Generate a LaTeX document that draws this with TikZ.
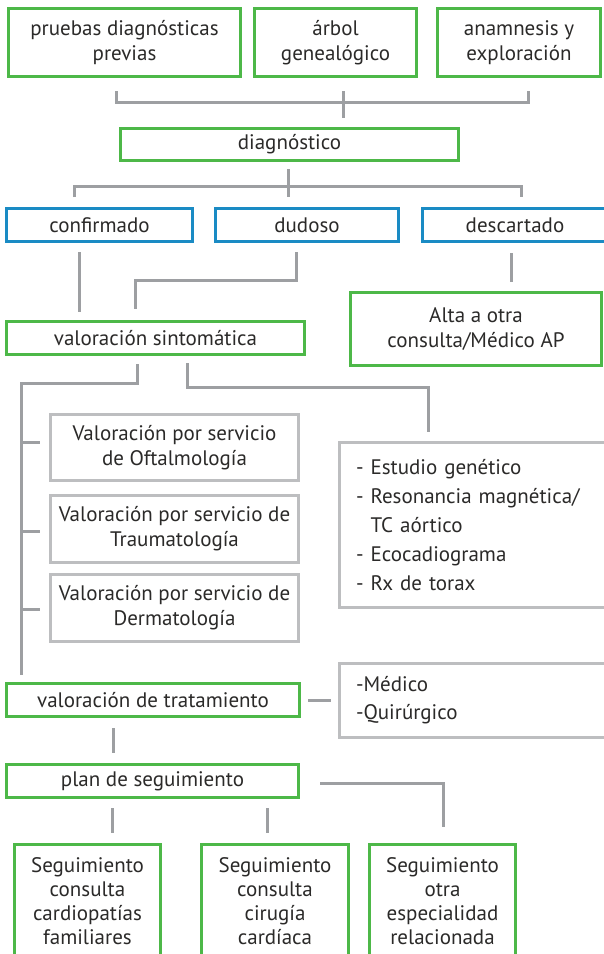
\documentclass[tikz,border=0pt]{standalone}
\usepackage{fontspec}
\setmainfont{PT Sans}
\definecolor{grn}{HTML}{4DB848}
\definecolor{blu}{HTML}{1A8BC4}
\definecolor{gboxc}{HTML}{BDBEC0}
\definecolor{gline}{HTML}{9D9FA2}
\definecolor{txt}{HTML}{2B2A29}
\begin{document}
\begin{tikzpicture}[x=1pt,y=-1pt,
  box/.style={draw, line width=3pt, inner sep=0pt, text=txt, align=center,
    font=\fontsize{21}{25}\selectfont},
  gbox/.style={box, draw=grn},
  bbox/.style={box, draw=blu},
  ybox/.style={box, draw=gboxc},
  lbox/.style={box, draw=gboxc, align=left, inner xsep=16.5pt},
  conn/.style={draw=gline, line width=3pt}]
\useasboundingbox (0,0) rectangle (604,954);
\fill[white] (0,0) rectangle (604,954);
\clip (0,0) rectangle (604,954);

% top row
\node[gbox, minimum width=232, minimum height=68] (b1) at (124.5,42.5) {pruebas diagnósticas\\previas};
\node[gbox, minimum width=162, minimum height=68] (b2) at (335.5,42.5) {árbol\\genealógico};
\node[gbox, minimum width=163, minimum height=68] (b3) at (519,42.5) {anamnesis y\\exploración};
\node[gbox, minimum width=338, minimum height=32] (diag) at (289.5,144.5) {diagnóstico};

\node[bbox, minimum width=186, minimum height=33] (conf) at (99.5,225) {confirmado};
\node[bbox, minimum width=183, minimum height=33] (dud) at (307,225) {dudoso};
\node[bbox, minimum width=185, minimum height=33] (desc) at (515,225) {descartado};

\node[gbox, minimum width=251, minimum height=73] (alta) at (476,328.5) {Alta a otra\\consulta/Médico AP};
\node[gbox, minimum width=298, minimum height=33] (vsin) at (155.5,338) {valoración sintomática};

\node[ybox, minimum width=248, minimum height=66] (oft) at (174.5,447.5) {Valoración por servicio\\de Oftalmología};
\node[ybox, minimum width=248, minimum height=67] (trau) at (174.5,529) {Valoración por servicio de\\Traumatología};
\node[ybox, minimum width=248, minimum height=67] (derm) at (174.5,608) {Valoración por servicio de\\Dermatología};

\node[lbox, text width=246, minimum height=165, font=\fontsize{21}{28.8}\selectfont] (est) at (479,525)
  {- Estudio genético\\- Resonancia magnética/\\\phantom{- }TC aórtico\\- Ecocadiograma\\- Rx de torax};

\node[gbox, minimum width=293, minimum height=33] (vtrat) at (153,700) {valoración de tratamiento};
\node[lbox, text width=246, minimum height=74, font=\fontsize{21}{28}\selectfont] (med) at (479,700.5)
  {-Médico\\-Quirúrgico};

\node[gbox, minimum width=292, minimum height=33] (plan) at (152.5,781) {plan de seguimiento};

\node[gbox, minimum width=146, minimum height=115, font=\fontsize{21}{24}\selectfont] (s1) at (87.5,901.5) {Seguimiento\\consulta\\cardiopatías\\familiares};
\node[gbox, minimum width=147, minimum height=115, font=\fontsize{21}{24}\selectfont] (s2) at (275,901.5) {Seguimiento\\consulta\\cirugía\\cardíaca};
\node[gbox, minimum width=146, minimum height=115, font=\fontsize{21}{24}\selectfont] (s3) at (442.5,901.5) {Seguimiento\\otra\\especialidad\\relacionada};

% connector coordinates
\coordinate (t1) at (116,91); \coordinate (t2) at (116,102);
\coordinate (t3) at (528,102); \coordinate (t4) at (528,91);
\coordinate (t5) at (343,91); \coordinate (t6) at (343,118);
\draw[conn] (t1) -- (t2) -- (t3) -- (t4);
\draw[conn] (t5) -- (t6);

\coordinate (d1) at (288,169); \coordinate (d2) at (288,197);
\coordinate (d3) at (74,197); \coordinate (d4) at (74,186);
\coordinate (d5) at (521,186); \coordinate (d6) at (521,197);
\draw[conn] (d1) -- (d2);
\draw[conn] (d3) -- (d4) -- (d5) -- (d6);

\coordinate (c1) at (79,252); \coordinate (c2) at (79,312);
\draw[conn] (c1) -- (c2);
\coordinate (u1) at (296,252); \coordinate (u2) at (296,280);
\coordinate (u3) at (135,280); \coordinate (u4) at (135,309);
\draw[conn] (u1) -- (u2) -- (u3) -- (u4);
\coordinate (e1) at (511,253); \coordinate (e2) at (511,282);
\draw[conn] (e1) -- (e2);

\coordinate (v1) at (137,364); \coordinate (v2) at (137,383);
\coordinate (v3) at (21,383); \coordinate (v4) at (21,675);
\draw[conn] (v1) -- (v2) -- (v3) -- (v4);
\coordinate (k1) at (21,442); \coordinate (k1e) at (40,442);
\coordinate (k2) at (21,531); \coordinate (k2e) at (40,531);
\coordinate (k3) at (21,609); \coordinate (k3e) at (40,609);
\draw[conn] (k1) -- (k1e);
\draw[conn] (k2) -- (k2e);
\draw[conn] (k3) -- (k3e);
\coordinate (w1) at (187,363); \coordinate (w2) at (187,387);
\coordinate (w3) at (428,387); \coordinate (w4) at (428,432);
\draw[conn] (w1) -- (w2) -- (w3) -- (w4);

\coordinate (m1) at (308,700); \coordinate (m2) at (331,700);
\draw[conn] (m1) -- (m2);
\coordinate (p1) at (113,728); \coordinate (p2) at (113,753);
\draw[conn] (p1) -- (p2);

\coordinate (q1) at (320,783); \coordinate (q2) at (443,783); \coordinate (q3) at (443,827);
\draw[conn] (q1) -- (q2) -- (q3);
\coordinate (r1) at (112,808); \coordinate (r2) at (112,833);
\coordinate (r3) at (267,808); \coordinate (r4) at (267,833);
\draw[conn] (r1) -- (r2);
\draw[conn] (r3) -- (r4);
\end{tikzpicture}
\end{document}
